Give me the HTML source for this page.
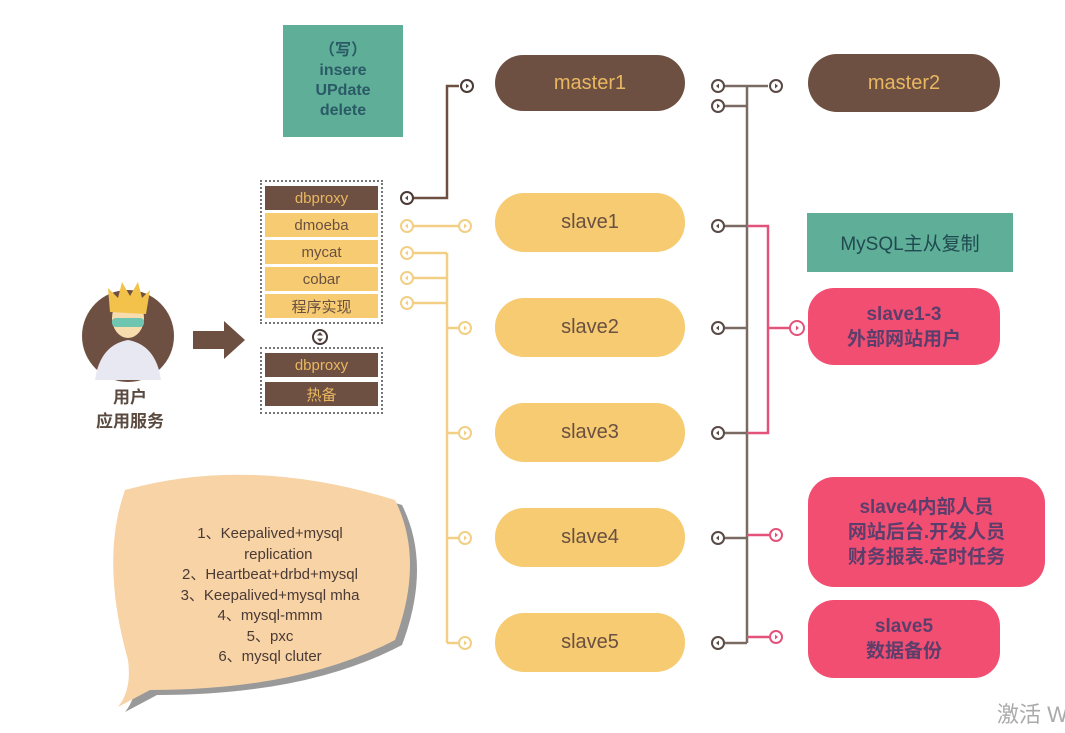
<!DOCTYPE html>
<html><head><meta charset="utf-8"><style>
body{margin:0;width:1065px;height:733px;background:#fff;position:relative;overflow:hidden;font-family:"Liberation Sans","Noto Sans CJK SC",sans-serif}
.a{position:absolute;display:flex;align-items:center;justify-content:center;text-align:center}
.pill{border-radius:29px;font-size:20px}
.br{background:#6e5043;color:#e9b760}
.ye{background:#f6cb72;color:#6a5040}
.pk{background:#f24e72;color:#5b3e6b;border-radius:26px;font-size:19px;font-weight:bold;line-height:25px}
.it{left:265px;width:113px;height:24px;font-size:15px}
</style></head><body>
<div class="a" style="left:283px;top:25px;width:120px;height:112px;background:#5fae98;color:#2a5a66;font-size:16px;font-weight:bold;line-height:20px">（写）<br>insere<br>UPdate<br>delete</div>
<div class="a pill br" style="left:495px;top:55px;width:190px;height:56px">master1</div>
<div class="a pill br" style="left:808px;top:54px;width:192px;height:58px">master2</div>
<div class="a pill ye" style="left:495px;top:193px;width:190px;height:59px">slave1</div>
<div class="a pill ye" style="left:495px;top:298px;width:190px;height:59px">slave2</div>
<div class="a pill ye" style="left:495px;top:403px;width:190px;height:59px">slave3</div>
<div class="a pill ye" style="left:495px;top:508px;width:190px;height:59px">slave4</div>
<div class="a pill ye" style="left:495px;top:613px;width:190px;height:59px">slave5</div>
<div class="a" style="left:807px;top:213px;width:206px;height:59px;background:#5fae98;color:#1f4a50;font-size:19px">MySQL主从复制</div>
<div class="a pk" style="left:808px;top:288px;width:192px;height:77px">slave1-3<br>外部网站用户</div>
<div class="a pk" style="left:808px;top:477px;width:237px;height:110px">slave4内部人员<br>网站后台.开发人员<br>财务报表.定时任务</div>
<div class="a pk" style="left:808px;top:600px;width:192px;height:78px">slave5<br>数据备份</div>
<div style="position:absolute;left:260px;top:180px;width:119px;height:140px;border:2px dotted #777"></div>
<div class="a it br" style="top:186px">dbproxy</div>
<div class="a it ye" style="top:213px">dmoeba</div>
<div class="a it ye" style="top:240px">mycat</div>
<div class="a it ye" style="top:267px">cobar</div>
<div class="a it ye" style="top:294px">程序实现</div>
<div style="position:absolute;left:260px;top:347px;width:119px;height:63px;border:2px dotted #777"></div>
<div class="a it br" style="top:353px">dbproxy</div>
<div class="a it br" style="top:382px">热备</div>
<svg style="position:absolute;left:0;top:0" width="1065" height="733">
<g fill="none" stroke-width="2.5">
<path d="M413 198H447V86H459" stroke="#6e5043"/>
<path d="M413 226H458M413 253H447M413 278H447M413 303H447M447 253V643M447 328H458M447 433H458M447 538H458M447 643H458" stroke="#f2cf84"/>
<path d="M724 86H768M724 106H747M747 86V643M724 226H747M724 328H747M724 433H747M724 538H747M724 643H747" stroke="#7a6a64"/>
<path d="M747 226H768V433H747M768 328H790M747 535H769M747 637H769" stroke="#e2527a"/>
</g>
<g stroke-width="2" fill="#fff">
<circle cx="407" cy="198" r="6" stroke="#4a3a35"/><circle cx="467" cy="86" r="6" stroke="#4a3a35"/>
<g stroke="#f2cf84"><circle cx="407" cy="226" r="6"/><circle cx="465" cy="226" r="6"/><circle cx="407" cy="253" r="6"/><circle cx="407" cy="278" r="6"/><circle cx="407" cy="303" r="6"/><circle cx="465" cy="328" r="6"/><circle cx="465" cy="433" r="6"/><circle cx="465" cy="538" r="6"/><circle cx="465" cy="643" r="6"/></g>
<g stroke="#5a4a45"><circle cx="718" cy="86" r="6"/><circle cx="718" cy="106" r="6"/><circle cx="776" cy="86" r="6"/><circle cx="718" cy="226" r="6"/><circle cx="718" cy="328" r="6"/><circle cx="718" cy="433" r="6"/><circle cx="718" cy="538" r="6"/><circle cx="718" cy="643" r="6"/></g>
<g stroke="#e2527a"><circle cx="797" cy="328" r="7"/><circle cx="776" cy="535" r="6"/><circle cx="776" cy="637" r="6"/></g>
<circle cx="320" cy="337" r="7" stroke="#4a3a35"/>
</g>
<g fill="#5a4a45">
<path d="M405 198l3-2.5v5z"/><path d="M469 86l-3-2.5v5z"/>
<path d="M716 86l3-2.5v5z"/><path d="M720 106l-3-2.5v5z"/><path d="M778 86l-3-2.5v5z"/>
<path d="M716 226l3-2.5v5z"/><path d="M716 328l3-2.5v5z"/><path d="M716 433l3-2.5v5z"/><path d="M716 538l3-2.5v5z"/><path d="M716 643l3-2.5v5z"/>
<path d="M320 332l-3 3.5h6zM320 342l-3-3.5h6z"/>
</g>
<g fill="#f2cf84">
<path d="M405 226l3-2.5v5z"/><path d="M405 253l3-2.5v5z"/><path d="M405 278l3-2.5v5z"/><path d="M405 303l3-2.5v5z"/>
<path d="M467 226l-3-2.5v5z"/><path d="M467 328l-3-2.5v5z"/><path d="M467 433l-3-2.5v5z"/><path d="M467 538l-3-2.5v5z"/><path d="M467 643l-3-2.5v5z"/>
</g>
<g fill="#e2527a"><path d="M799 328l-3-2.5v5z"/><path d="M778 535l-3-2.5v5z"/><path d="M778 637l-3-2.5v5z"/></g>
<circle cx="128" cy="336" r="46" fill="#6e5043"/>
<path d="M95 380Q100 345 128 340Q156 345 161 380Z" fill="#e8e8f2"/>
<ellipse cx="128" cy="318" rx="16" ry="20" fill="#f7dcae"/>
<path d="M110 312L108 288L118 298L122 282L130 296L138 282L142 298L150 290L146 314Z" fill="#f3c24a"/>
<rect x="112" y="318" width="32" height="9" rx="4" fill="#6fc6b0"/>
<path d="M193 331H224V321L245 340L224 359V349H193Z" fill="#6e5043"/>
<path d="M125 490Q250 455 395 500Q425 560 395 640Q300 690 150 690L118 707Q132 690 128 660Q100 560 125 490Z" fill="#999" transform="translate(7,5)"/>
<path d="M125 490Q250 455 395 500Q425 560 395 640Q300 690 150 690L118 707Q132 690 128 660Q100 560 125 490Z" fill="#f7d3a6"/>
</svg>
<div class="a" style="left:80px;top:385px;width:100px;height:50px;color:#5a4a40;font-weight:bold;font-size:17px;line-height:24px">用户<br>应用服务</div>
<div class="a" style="left:135px;top:524px;width:270px;height:150px;color:#4a3a35;font-size:15px;line-height:20.5px;align-items:flex-start">1、Keepalived+mysql<br>&nbsp;&nbsp;&nbsp;&nbsp;replication<br>2、Heartbeat+drbd+mysql<br>3、Keepalived+mysql mha<br>4、mysql-mmm<br>5、pxc<br>6、mysql cluter</div>
<div style="position:absolute;left:997px;top:697px;color:#aaa;font-size:22px;white-space:nowrap">激活 W</div>
</body></html>
